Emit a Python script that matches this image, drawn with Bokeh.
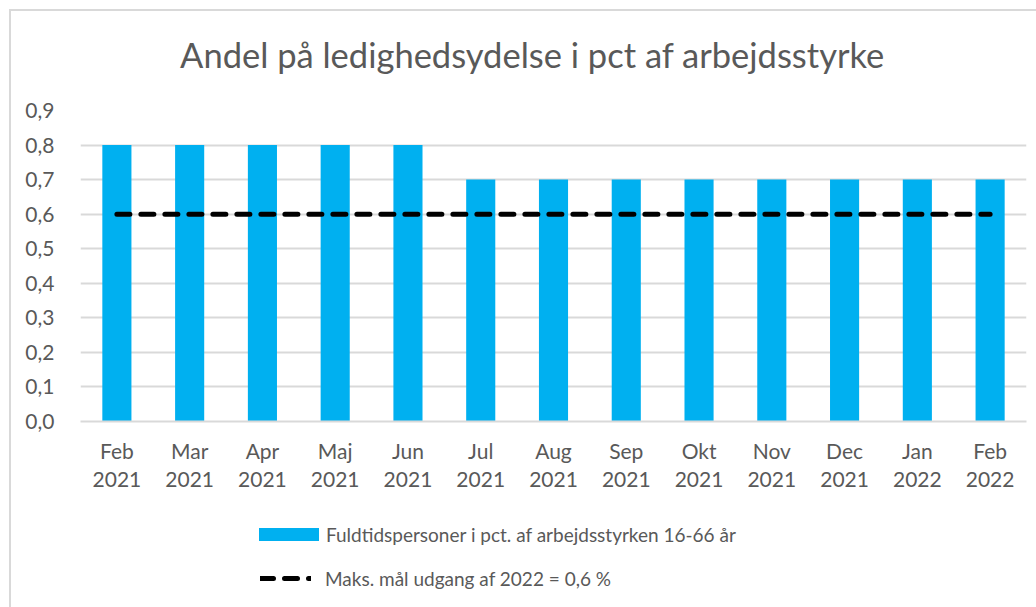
from bokeh.plotting import figure
from bokeh.layouts import column
from bokeh.models import Range1d, FixedTicker, CustomJSTickFormatter, Legend, LegendItem, ColumnDataSource, Label
from bokeh.embed import file_html
from bokeh.resources import INLINE

title_text = "Andel på ledighedsydelse i pct af arbejdsstyrke"
months = ["Feb\n2021", "Mar\n2021", "Apr\n2021", "Maj\n2021", "Jun\n2021", "Jul\n2021",
          "Aug\n2021", "Sep\n2021", "Okt\n2021", "Nov\n2021", "Dec\n2021", "Jan\n2022", "Feb\n2022"]
bar_values = [0.8, 0.8, 0.8, 0.8, 0.8, 0.7, 0.7, 0.7, 0.7, 0.7, 0.7, 0.7, 0.7]
target_values = [0.6, 0.6, 0.6, 0.6, 0.6, 0.6, 0.6, 0.6, 0.6, 0.6, 0.6, 0.6, 0.6]
y_ticks = [0.0, 0.1, 0.2, 0.3, 0.4, 0.5, 0.6, 0.7, 0.8, 0.9]
bar_label = "Fuldtidspersoner i pct. af arbejdsstyrken 16-66 år"
line_label = "Maks. mål udgang af 2022 = 0,6 %"

FONT = "Lato"
TXT = "#595959"
GRID = "#D9D9D9"
BLUE = "#00B0F0"
DASH = "13 11"
W = 1025


def blank(height):
    # frames inside a column are aligned with the chart frame (page x 80..1026)
    f = figure(width=W, height=height, output_backend="svg", toolbar_location=None,
               x_range=Range1d(80, 1026), y_range=Range1d(0, height), min_border=0,
               x_axis_location=None, y_axis_location=None)
    f.outline_line_color = None
    f.xgrid.grid_line_color = None
    f.ygrid.grid_line_color = None
    f.background_fill_color = "white"
    f.border_fill_color = "white"
    return f


# title strip
tf = blank(79)
tf.add_layout(Label(x=532, y=36, text=title_text, text_align="center", text_baseline="alphabetic",
                    text_font=FONT, text_font_size="34.5px", text_color=TXT))

# main chart
xs = list(range(len(months)))
src = ColumnDataSource(dict(x=xs, bar=bar_values, target=target_values))

p = figure(width=W, height=415, output_backend="svg", toolbar_location=None,
           x_range=Range1d(-0.5, len(months) - 0.5), y_range=Range1d(0, 0.9),
           min_border_left=69, min_border_right=10, min_border_top=20, min_border_bottom=84)
p.outline_line_color = None
p.background_fill_color = "white"
p.border_fill_color = "white"

bars = p.vbar(x="x", top="bar", width=0.4, source=src, fill_color=BLUE, line_color=None)
line = p.line(x="x", y="target", source=src, line_color="black", line_width=5,
              line_dash=DASH, line_cap="round")

p.yaxis.ticker = FixedTicker(ticks=y_ticks)
p.yaxis.formatter = CustomJSTickFormatter(code="return tick.toFixed(1).replace('.', ',');")
p.yaxis.axis_line_color = None
p.yaxis.major_tick_line_color = None
p.yaxis.minor_tick_line_color = None
p.yaxis.major_label_standoff = 20
p.yaxis.major_label_text_font = FONT
p.yaxis.major_label_text_font_size = "21px"
p.yaxis.major_label_text_color = TXT

p.xaxis.ticker = FixedTicker(ticks=xs)
p.xaxis.major_label_overrides = {i: m for i, m in enumerate(months)}
p.xaxis.axis_line_color = GRID
p.xaxis.axis_line_width = 2
p.xaxis.major_tick_line_color = None
p.xaxis.minor_tick_line_color = None
p.xaxis.major_label_standoff = 10
p.xaxis.major_label_text_font = FONT
p.xaxis.major_label_text_font_size = "21px"
p.xaxis.major_label_text_color = TXT
p.xaxis.major_label_text_line_height = 1.15

p.xgrid.grid_line_color = None
p.ygrid.grid_line_color = GRID
p.ygrid.grid_line_width = 2

# legend strip (legend swatches use off-screen copies of the series styles)
lf = blank(102)
lsrc = ColumnDataSource(dict(x=[-100, -90], bar=[-50, -50], target=[-50, -50]))
lbar = lf.vbar(x="x", top="bar", width=4, source=lsrc, fill_color=BLUE, line_color=None)
lline = lf.line(x="x", y="target", source=lsrc, line_color="black", line_width=5,
                line_dash=DASH, line_cap="round")

common = dict(orientation="vertical", label_text_font=FONT, label_text_font_size="19px",
              label_text_color=TXT, label_height=24, border_line_color=None,
              background_fill_alpha=0, margin=0, padding=0)
leg1 = Legend(items=[LegendItem(label=bar_label, renderers=[lbar])],
              location=(171, 61), glyph_width=75, glyph_height=16, label_standoff=0, **common)
leg2 = Legend(items=[LegendItem(label=line_label, renderers=[lline])],
              location=(180, 17), glyph_width=51, glyph_height=16, label_standoff=14, **common)
lf.add_layout(leg1)
lf.add_layout(leg2)

layout = column(tf, p, lf, spacing=0)
layout.styles = {"margin-left": "9px", "margin-top": "9px",
                 "border-top": "2px solid #D9D9D9", "border-left": "2px solid #D9D9D9"}

open("out.html", "w").write(file_html(layout, INLINE))
